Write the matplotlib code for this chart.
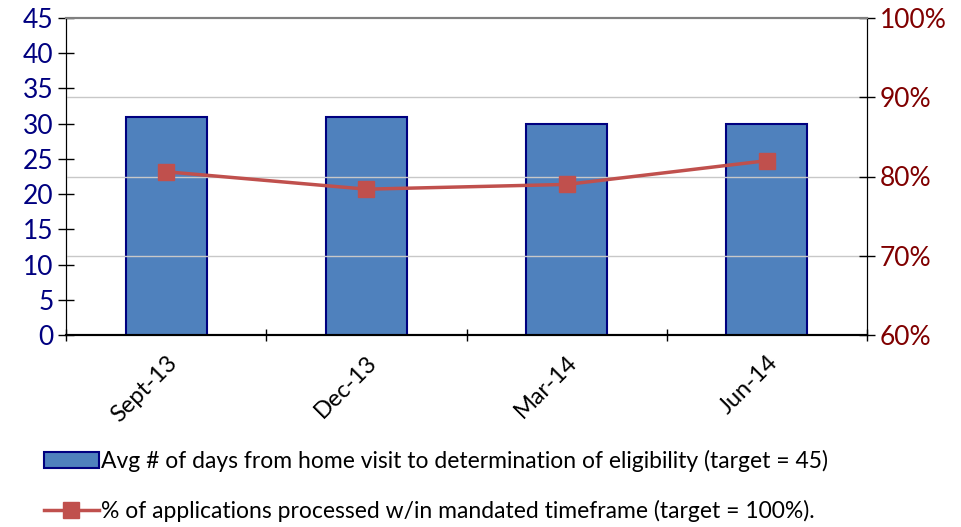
import matplotlib
matplotlib.use("Agg")
from matplotlib import pyplot as plt
from matplotlib.ticker import FuncFormatter

quarters = ["Sept-13", "Dec-13", "Mar-14", "Jun-14"]
avg_days = [31, 31, 30, 30]
pct_processed = [80.6, 78.4, 79.0, 82.0]
left_ticks = list(range(0, 50, 5))
right_ticks = [60, 70, 80, 90, 100]

bar_label = "Avg # of days from home visit to determination of eligibility (target = 45)"
line_label = "% of applications processed w/in mandated timeframe (target = 100%)."

plt.rcParams["font.family"] = ["Lato", "DejaVu Sans"]

fig = plt.figure(figsize=(9.61, 5.27), dpi=100)
ax = fig.add_axes([66 / 961, 1 - 335 / 527, (867 - 66) / 961, (335 - 18) / 527])
ax2 = ax.twinx()

x = list(range(len(quarters)))
bars = ax.bar(x, avg_days, width=0.405, color="#4F81BD", edgecolor="#000080",
              linewidth=1.5, zorder=3, label=bar_label)
ax.set_ylim(0, 45)
ax.set_yticks(left_ticks)
ax.set_xlim(-0.5, 3.5)
ax.set_xticks(x)
ax.set_xticklabels(quarters, rotation=45, ha="right", rotation_mode="anchor",
                   fontsize=17, color="black")
ax.set_xticks([i - 0.5 for i in range(len(quarters) + 1)], minor=True)
ax.tick_params(axis="x", which="major", length=0, pad=12)
ax.tick_params(axis="x", which="minor", length=9, direction="inout", width=1)
ax.tick_params(axis="y", labelsize=19, labelcolor="#000080", length=12,
               direction="inout", width=1, pad=3)

line, = ax2.plot(x, pct_processed, color="#C0504D", linewidth=2.5, marker="s",
                 markersize=11, zorder=4, label=line_label)
ax2.set_ylim(60, 100)
ax2.set_yticks(right_ticks)
ax2.yaxis.set_major_formatter(FuncFormatter(lambda v, p: f"{int(v)}%"))
ax2.tick_params(axis="y", labelsize=19, labelcolor="#800000", length=12,
                direction="inout", width=1, pad=3)
for v in [70, 80, 90]:
    ax2.axhline(v, color="#C8C8C8", linewidth=1, zorder=0)

ax.set_zorder(ax2.get_zorder() - 1)
ax2.patch.set_visible(False)

for a in (ax, ax2):
    a.spines["top"].set_color("#808080")
    a.spines["top"].set_linewidth(1.5)
    a.spines["left"].set_color("black")
    a.spines["right"].set_color("black")
    a.spines["bottom"].set_color("black")
    a.spines["bottom"].set_linewidth(1.5)

fig.legend([bars, line], [bar_label, line_label], loc="upper left",
           bbox_to_anchor=(23 / 961, 1 - 429 / 527), frameon=False,
           fontsize=16.5, handlelength=2.4, handletextpad=0.1, labelspacing=1.25)

fig.savefig("out.png", dpi=100)
